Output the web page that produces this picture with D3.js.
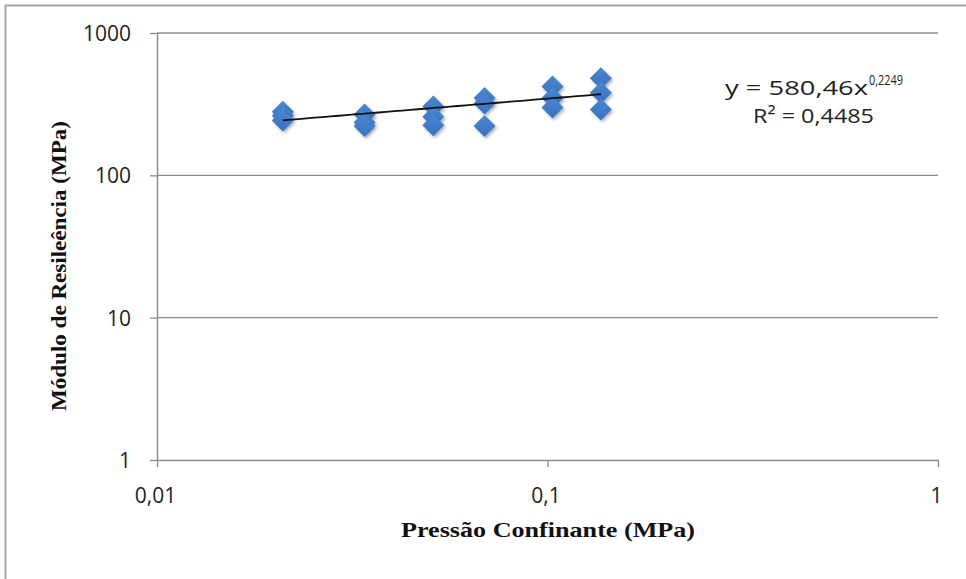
<!DOCTYPE html>
<html>
<head>
<meta charset="utf-8">
<script src="https://cdn.jsdelivr.net/npm/d3@7"></script>
<style>
  html, body { margin: 0; padding: 0; background: #fff; }
  svg { display: block; }
</style>
</head>
<body>
<svg id="chart" width="966" height="579"></svg>
<script>
// ---- data ----
const pressures = [0.021, 0.021, 0.021, 0.034, 0.034, 0.034, 0.051, 0.051, 0.051,
                   0.069, 0.069, 0.069, 0.103, 0.103, 0.103, 0.137, 0.137, 0.137];
const modulus   = [280, 262, 243, 268, 235, 222, 305, 258, 225,
                   350, 320, 222, 420, 350, 300, 480, 380, 290];
const xTicks = [0.01, 0.1, 1];
const xTickLabels = ["0,01", "0,1", "1"];
const yTicks = [1, 10, 100, 1000];
const yTickLabels = ["1", "10", "100", "1000"];
const trendCoef = 580.46, trendExp = 0.2249;
const trendRange = [0.021, 0.137];
const eqText = ["y = 580,46x", "0,2249"];
const r2Text = "R² = 0,4485";
const xTitle = "Pressão Confinante (MPa)";
const yTitle = "Módulo de Resileência (MPa)";

// ---- layout ----
const svg = d3.select("#chart");
const plot = { left: 157, right: 938, top: 33, bottom: 460 };
const sansFont = "'Open Sans', 'Liberation Sans', sans-serif";
const serifFont = "'Liberation Serif', 'Times New Roman', serif";

// outer frame
svg.append("rect").attr("x", 5.5).attr("y", 5.5).attr("width", 980).attr("height", 600)
  .attr("fill", "none").attr("stroke", "#a6a6a6").attr("stroke-width", 2);

const x = d3.scaleLog().domain([0.01, 1]).range([plot.left, plot.right]);
const y = d3.scaleLog().domain([1, 1000]).range([plot.bottom, plot.top]);

const gridColor = "#8c8c8c";

// horizontal gridlines
svg.append("g").selectAll("line").data(yTicks.filter(d => d > 1)).join("line")
  .attr("x1", plot.left).attr("x2", plot.right)
  .attr("y1", d => y(d)).attr("y2", d => y(d))
  .attr("stroke", gridColor).attr("stroke-width", 1.3);

// y axis
const yAxis = d3.axisLeft(y).tickValues(yTicks).tickFormat((d, i) => yTickLabels[i])
  .tickSizeInner(7).tickSizeOuter(0).tickPadding(19);
const gy = svg.append("g").attr("transform", `translate(${plot.left},0)`).call(yAxis);
gy.select(".domain").attr("stroke", gridColor).attr("stroke-width", 1.5);
gy.selectAll(".tick line").attr("stroke", gridColor).attr("stroke-width", 1.3);
gy.selectAll(".tick text").attr("font-family", sansFont)
  .attr("font-size", 21).attr("fill", "#222").attr("dy", "0.36em");

// x axis
const xAxis = d3.axisBottom(x).tickValues(xTicks).tickFormat((d, i) => xTickLabels[i])
  .tickSizeInner(7).tickSizeOuter(0).tickPadding(21);
const gx = svg.append("g").attr("transform", `translate(0,${plot.bottom})`).call(xAxis);
gx.select(".domain").attr("stroke", gridColor).attr("stroke-width", 1.5);
gx.selectAll(".tick line").attr("stroke", gridColor).attr("stroke-width", 1.3);
gx.selectAll(".tick text").attr("font-family", sansFont)
  .attr("font-size", 21).attr("fill", "#222").attr("dx", -2);

// axis titles
svg.append("text").attr("x", 548).attr("y", 537)
  .attr("text-anchor", "middle").attr("font-family", serifFont)
  .attr("font-weight", "bold").attr("font-size", 21).attr("fill", "#111")
  .attr("textLength", 294).attr("lengthAdjust", "spacingAndGlyphs")
  .text(xTitle);
svg.append("text")
  .attr("transform", `translate(66,${266}) rotate(-90)`)
  .attr("text-anchor", "middle").attr("font-family", serifFont)
  .attr("font-weight", "bold").attr("font-size", 21).attr("fill", "#111")
  .attr("textLength", 290).attr("lengthAdjust", "spacingAndGlyphs")
  .text(yTitle);

// marker shadow filter
const defs = svg.append("defs");
const f = defs.append("filter").attr("id", "shadow").attr("x", "-50%").attr("y", "-50%")
  .attr("width", "200%").attr("height", "200%");
f.append("feDropShadow").attr("dx", 1.5).attr("dy", 2).attr("stdDeviation", 1.5)
  .attr("flood-color", "#000").attr("flood-opacity", 0.3);
const grad = defs.append("linearGradient").attr("id", "dgrad").attr("x1", 0).attr("y1", 0).attr("x2", 0).attr("y2", 1);
grad.append("stop").attr("offset", "0%").attr("stop-color", "#4b86d0");
grad.append("stop").attr("offset", "100%").attr("stop-color", "#3872c0");

// points
const pts = pressures.map((p, i) => ({ p, m: modulus[i] }));
const r = 11;
svg.append("g").selectAll("path").data(pts).join("path")
  .attr("d", d => {
    const cx = x(d.p), cy = y(d.m);
    return `M${cx},${cy - r}L${cx + r},${cy}L${cx},${cy + r}L${cx - r},${cy}Z`;
  })
  .attr("fill", "url(#dgrad)").attr("filter", "url(#shadow)");

// trendline (power fit from the chart's equation)
const trendPts = d3.range(0, 41).map(i => {
  const lx = Math.log10(trendRange[0]) + i / 40 * (Math.log10(trendRange[1]) - Math.log10(trendRange[0]));
  const px = Math.pow(10, lx);
  return [px, trendCoef * Math.pow(px, trendExp)];
});
svg.append("path").datum(trendPts)
  .attr("d", d3.line().x(d => x(d[0])).y(d => y(d[1])))
  .attr("fill", "none").attr("stroke", "#111").attr("stroke-width", 1.8);

// equation label
const eq = svg.append("text").attr("y", 95)
  .attr("font-family", sansFont).attr("fill", "#222");
eq.append("tspan").attr("x", 725).attr("font-size", 20)
  .attr("textLength", 143).attr("lengthAdjust", "spacingAndGlyphs").text(eqText[0]);
eq.append("tspan").attr("x", 869).attr("dy", -10).attr("font-size", 14)
  .attr("textLength", 34).attr("lengthAdjust", "spacingAndGlyphs").text(eqText[1]);
svg.append("text").attr("x", 753).attr("y", 123)
  .attr("font-family", sansFont).attr("font-size", 20).attr("fill", "#222")
  .attr("textLength", 121).attr("lengthAdjust", "spacingAndGlyphs").text(r2Text);
</script>
</body>
</html>
